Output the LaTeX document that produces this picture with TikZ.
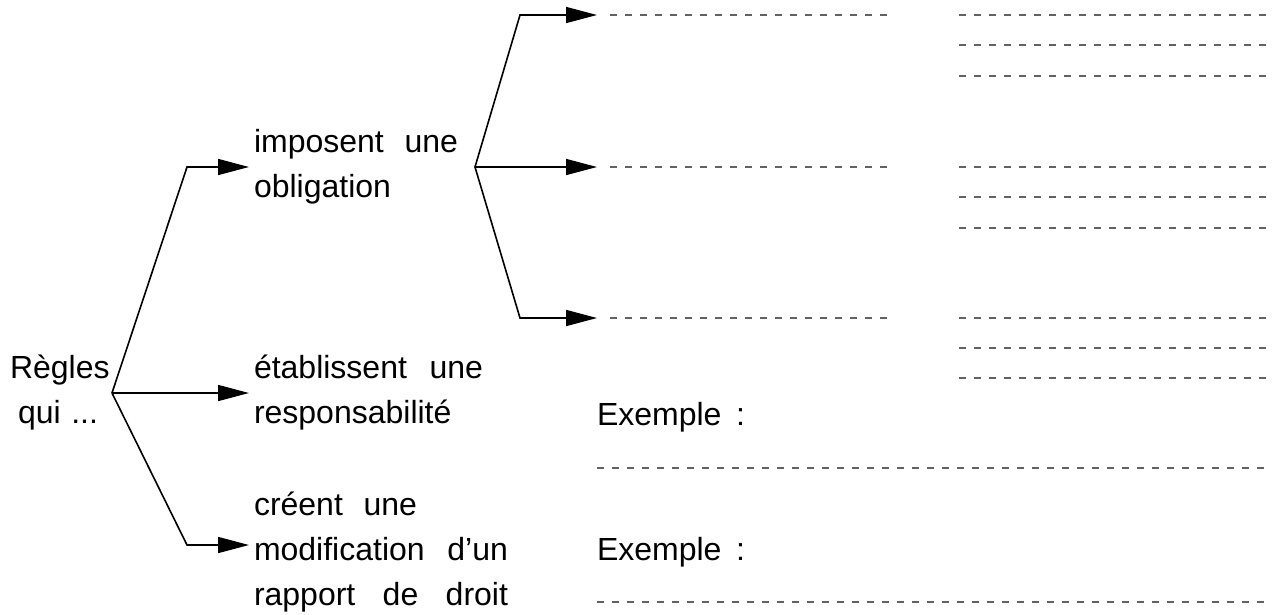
\documentclass[tikz,border=0pt]{standalone}
\usepackage{fontspec}
\setmainfont{Liberation Sans}
\usetikzlibrary{arrows.meta}
\definecolor{dashgray}{HTML}{626262}
\tikzset{
  txt/.style={inner sep=0pt, outer sep=0pt, anchor=base west, font=\fontsize{32}{45}\selectfont},
  conn/.style={line width=1.6pt, line join=miter},
  arr/.style={conn, -{Triangle[length=31pt,width=16pt]}},
  blank/.style={dashgray, line width=1.7pt, dash pattern=on 7pt off 8pt},
}
\begin{document}
\begin{tikzpicture}[x=1pt,y=-1pt]
\useasboundingbox (0,0) rectangle (1276,614);
% root
\node[txt] (r1) at (10,378) {Règles};
\node[txt] (r2) at (18,423) {\makebox[80pt][s]{qui ...}};
% level 1 texts
\node[txt] (a1) at (254,152) {\makebox[204pt][s]{imposent une}};
\node[txt] (a2) at (254,197) {obligation};
\node[txt] (b1) at (254,378) {\makebox[229pt][s]{établissent une}};
\node[txt] (b2) at (254,423) {responsabilité};
\node[txt] (c1) at (254,515) {\makebox[163pt][s]{créent une}};
\node[txt] (c2) at (254,560) {\makebox[254pt][s]{modification d’un}};
\node[txt] (c3) at (254,605) {\makebox[254pt][s]{rapport de droit}};
% examples
\node[txt] (e1) at (597,425) {\makebox[148pt][s]{Exemple :}};
\node[txt] (e2) at (597,560) {\makebox[148pt][s]{Exemple :}};
% junctions and corners
\coordinate (j0) at (112,393);
\coordinate (k1) at (187,167);
\coordinate (k3) at (187,545);
\coordinate (t1) at (249,167);
\coordinate (t2) at (249,393);
\coordinate (t3) at (249,545);
\coordinate (j1) at (475,167);
\coordinate (m1) at (520,15);
\coordinate (m3) at (520,318);
\coordinate (u1) at (597,15);
\coordinate (u2) at (597,167);
\coordinate (u3) at (597,318);
% level 1 connectors
\draw[arr] (j0) -- (k1) -- (t1);
\draw[arr] (j0) -- (t2);
\draw[arr] (j0) -- (k3) -- (t3);
% level 2 connectors
\draw[arr] (j1) -- (m1) -- (u1);
\draw[arr] (j1) -- (u2);
\draw[arr] (j1) -- (m3) -- (u3);
% blank lines
\foreach \y in {15,167,318} {
  \coordinate (L\y) at (610,\y);
  \coordinate (R\y) at (892,\y);
  \draw[blank] (L\y) -- (R\y);
}
\foreach \y in {15,45,76,167,197,228,318,348,378} {
  \coordinate (P\y) at (959,\y);
  \coordinate (Q\y) at (1270,\y);
  \draw[blank] (P\y) -- (Q\y);
}
\foreach \y in {468,602} {
  \coordinate (X\y) at (597,\y);
  \coordinate (Y\y) at (1270,\y);
  \draw[blank] (X\y) -- (Y\y);
}
\end{tikzpicture}
\end{document}
